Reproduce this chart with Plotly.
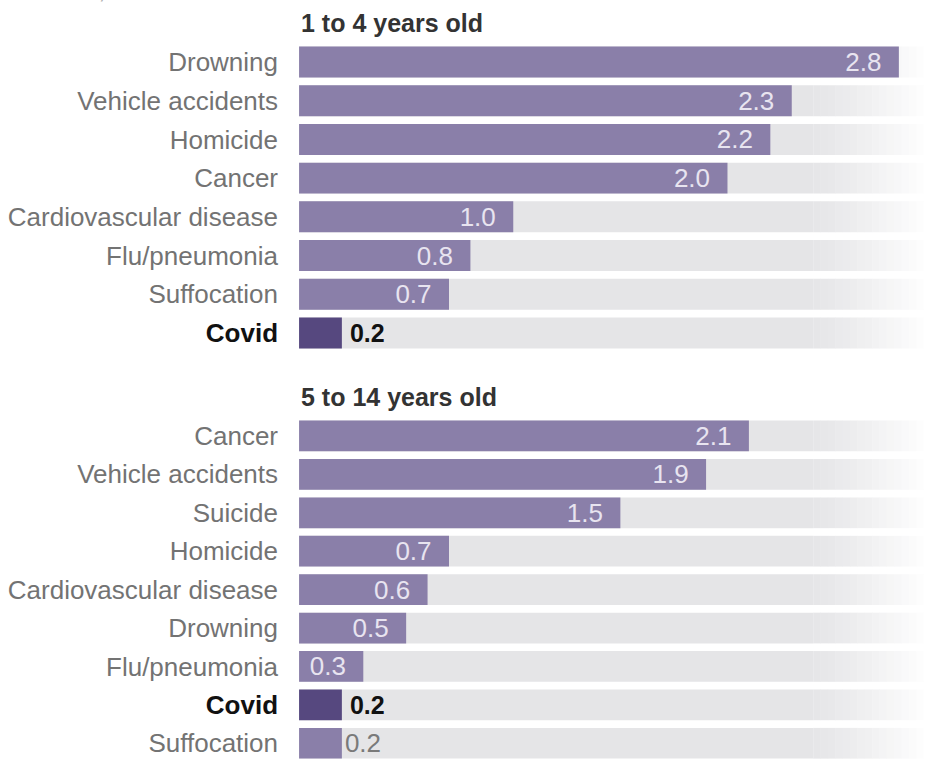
import plotly.graph_objects as go

# ---------------- data ----------------
UNIT_NOTE = "Per 100,000"

top_title = "1 to 4 years old"
top_causes = ["Drowning", "Vehicle accidents", "Homicide", "Cancer",
              "Cardiovascular disease", "Flu/pneumonia", "Suffocation", "Covid"]
top_rates = [2.8, 2.3, 2.2, 2.0, 1.0, 0.8, 0.7, 0.2]

bottom_title = "5 to 14 years old"
bottom_causes = ["Cancer", "Vehicle accidents", "Suicide", "Homicide",
                 "Cardiovascular disease", "Drowning", "Flu/pneumonia", "Covid", "Suffocation"]
bottom_rates = [2.1, 1.9, 1.5, 0.7, 0.6, 0.5, 0.3, 0.2, 0.2]

HIGHLIGHT = "Covid"

# ---------------- style ----------------
FONT = "Liberation Sans, Arial, sans-serif"
BAR = "#8a7fa9"
COVID = "#56487f"
TRACK = (229, 229, 231)
LABEL = "#737373"
INSIDE_TXT = "#e8e4f0"
XMAX = 2.95
FADE_START = 2.4
N_FADE = 16
BAR_W = 0.8

fig = go.Figure()


def blend(c, t):
    r, g, b = (int(round(v + (255 - v) * t)) for v in c)
    return f"rgb({r},{g},{b})"


def add_panel(causes, rates, xa, ya):
    n = len(causes)
    common = dict(y=causes, orientation="h", width=BAR_W, xaxis=xa, yaxis=ya,
                  hoverinfo="skip", showlegend=False)
    # grey track, fading out to the right
    fig.add_trace(go.Bar(x=[FADE_START] * n, base=[0] * n,
                         marker=dict(color=blend(TRACK, 0), line_width=0), **common))
    step = (XMAX - FADE_START) / N_FADE
    for k in range(N_FADE):
        t = (k + 1) / N_FADE
        fig.add_trace(go.Bar(x=[step * 1.05] * n, base=[FADE_START + k * step] * n,
                             marker=dict(color=blend(TRACK, t ** 1.2), line_width=0), **common))
    colors, texts, pos, tcol, tsize = [], [], [], [], []
    for c, v in zip(causes, rates):
        if c == HIGHLIGHT:
            colors.append(COVID)
            texts.append(f"\u2009<b>{v:.1f}</b>")
            pos.append("outside")
            tcol.append("#111111")
            tsize.append(25)
        else:
            colors.append(BAR)
            if v >= 0.3:
                texts.append(f"{v:.1f}\u00a0\u00a0")
                pos.append("inside")
                tcol.append(INSIDE_TXT)
            else:
                texts.append(f"{v:.1f}")
                pos.append("outside")
                tcol.append("#7a7a7a")
            tsize.append(26)
    fig.add_trace(go.Bar(x=rates, base=[0] * n,
                         marker=dict(color=colors, line_width=0),
                         text=texts, textposition=pos, insidetextanchor="end",
                         textfont=dict(family=FONT, size=tsize, color=tcol),
                         constraintext="none", cliponaxis=False, **common))


add_panel(top_causes, top_rates, "x", "y")
add_panel(bottom_causes, bottom_rates, "x2", "y2")


def ticktext(causes):
    return [f"<b><span style='color:#111111'>{c}</span></b>" if c == HIGHLIGHT else c
            for c in causes]


xcommon = dict(range=[0, XMAX], domain=[0.3212, 1], showgrid=False, zeroline=False,
               showticklabels=False, showline=False, fixedrange=True)
ycommon = dict(type="category", showgrid=False, zeroline=False, showline=False,
               ticks="", ticklabelstandoff=20, fixedrange=True,
               tickfont=dict(family=FONT, size=26, color=LABEL))

fig.update_layout(
    width=931, height=759,
    margin=dict(l=0, r=0, t=0, b=0),
    paper_bgcolor="white", plot_bgcolor="white",
    barmode="overlay",
    font=dict(family=FONT),
    xaxis=dict(anchor="y", **xcommon),
    xaxis2=dict(anchor="y2", **xcommon),
    yaxis=dict(anchor="x", domain=[0.5357, 0.9439], range=[len(top_causes) - 0.5, -0.5],
               tickmode="array", tickvals=top_causes, ticktext=ticktext(top_causes),
               categoryorder="array", categoryarray=top_causes, **ycommon),
    yaxis2=dict(anchor="x2", domain=[0, 0.4509], range=[8.41, -0.5],
                tickmode="array", tickvals=bottom_causes, ticktext=ticktext(bottom_causes),
                categoryorder="array", categoryarray=bottom_causes, **ycommon),
    annotations=[
        dict(text=top_title, xref="x domain", yref="y domain", x=0, y=1,
             xanchor="left", yanchor="bottom", yshift=4, showarrow=False,
             font=dict(family=FONT, size=25, color="#333333", weight="bold")),
        dict(text=bottom_title, xref="x2 domain", yref="y2 domain", x=0, y=1,
             xanchor="left", yanchor="bottom", yshift=4, showarrow=False,
             font=dict(family=FONT, size=25, color="#333333", weight="bold")),
        dict(text=UNIT_NOTE, xref="paper", yref="paper", x=0.01, y=1,
             xanchor="left", yanchor="bottom", yshift=-5, showarrow=False,
             font=dict(family=FONT, size=25, color="#b0b0b0")),
    ],
)

fig.write_html("out.html", config={"displayModeBar": False},
               post_script="document.body.style.margin='0';document.body.style.overflow='hidden';")
